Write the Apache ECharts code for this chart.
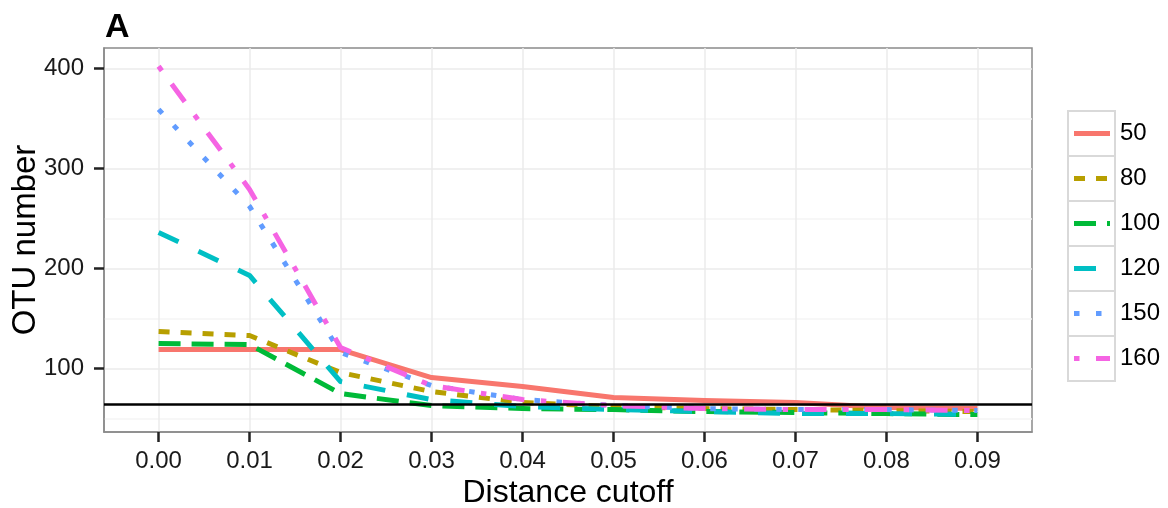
<!DOCTYPE html>
<html>
<head>
<meta charset="utf-8">
<script src="https://cdn.jsdelivr.net/npm/echarts@6/dist/echarts.min.js"></script>
<style>html,body{margin:0;padding:0;background:#fff}#c{width:1168px;height:508px}</style>
</head>
<body>
<div id="c"></div>
<script>
// ---- data ----
const cutoffs = [0.00, 0.01, 0.02, 0.03, 0.04, 0.05, 0.06, 0.07, 0.08, 0.09];
const xTicks = [0.00, 0.01, 0.02, 0.03, 0.04, 0.05, 0.06, 0.07, 0.08, 0.09];
const yTicks = [100, 200, 300, 400];
const yMinorTicks = [50, 150, 250, 350];
const seriesNames = ['50', '80', '100', '120', '150', '160'];
const s50  = [119, 119, 119, 91, 82, 71, 68, 66, 61, 60];
const s80  = [137, 133, 96, 77, 66, 62, 60, 59, 58, 57];
const s100 = [125, 124, 75, 63, 60, 59, 57, 56, 55, 54];
const s120 = [236, 193, 87, 69, 62, 59, 57, 55, 55, 54];
const s150 = [359, 262, 116, 83, 69, 63, 60, 59, 59, 58];
const s160 = [402, 279, 121, 83, 69, 63, 60, 59, 59, 58];
const refLine = 64;
const seriesValues = [s50, s80, s100, s120, s150, s160];
const xMin = -0.006, xMax = 0.096, yMin = 36.6, yMax = 420.3;

// ---- style ----
const colors = ['#F8766D', '#B79F00', '#00BA38', '#00BFC4', '#619CFF', '#F564E3'];
const u = 5.5;
const dashTypes = ['solid', [2*u, 2*u], [4*u, 2*u], [4*u, 4*u], [1*u, 3*u], [1*u, 3*u, 4*u, 3*u]];
const FONT = 'Liberation Sans, Arial, Helvetica, sans-serif';
const LW = 5;

const series = seriesNames.map((name, i) => {
  const s = {
    name: name,
    type: 'line',
    xAxisIndex: 0,
    yAxisIndex: 0,
    symbol: 'none',
    showSymbol: false,
    silent: true,
    z: 3,
    lineStyle: { color: colors[i], width: LW, type: dashTypes[i], cap: 'butt', join: 'round' },
    itemStyle: { color: colors[i] },
    data: cutoffs.map((c, k) => [c, seriesValues[i][k]])
  };
  if (i === 0) {
    s.markLine = {
      silent: true,
      symbol: ['none', 'none'],
      label: { show: false },
      lineStyle: { color: '#000', width: 2.5, type: 'solid' },
      data: [{ yAxis: refLine }]
    };
  }
  return s;
});

// ---- legend (ggplot-style keys) ----
const legendLeft = 1068, legendTop = 111, boxW = 47, boxH = 45;
const legendEls = [];
seriesNames.forEach((n, i) => {
  const top = legendTop + i * boxH;
  const cy = top + boxH / 2;
  legendEls.push({
    type: 'rect', x: legendLeft, y: top,
    shape: { x: 0, y: 0, width: boxW, height: boxH },
    style: { fill: '#fff', stroke: '#d9d9d9', lineWidth: 2 }, z: 1
  });
  const lineStyle = { stroke: colors[i], lineWidth: LW, lineCap: 'butt' };
  if (dashTypes[i] !== 'solid') lineStyle.lineDash = dashTypes[i];
  legendEls.push({
    type: 'line', x: legendLeft + 6, y: cy,
    shape: { x1: 0, y1: 0, x2: 36, y2: 0 },
    style: lineStyle, z: 2
  });
  legendEls.push({
    type: 'text', x: legendLeft + 52, y: cy,
    style: { text: n, fill: '#000', font: '24px ' + FONT, textVerticalAlign: 'middle', verticalAlign: 'middle' },
    z: 2
  });
});

const chart = echarts.init(document.getElementById('c'), null, { renderer: 'canvas' });

const tickStyle = { show: true, inside: false, length: 10, lineStyle: { color: '#222', width: 2.5 } };

chart.setOption({
  animation: false,
  backgroundColor: '#fff',
  title: {
    text: 'A', left: 100, top: 6,
    textStyle: { fontFamily: FONT, fontSize: 34, fontWeight: 'bold', color: '#000' }
  },
  grid: {
    left: 104, right: 136, top: 48, bottom: 76,
    show: true, borderColor: '#8a8a8a', borderWidth: 1.5, backgroundColor: 'transparent',
    containLabel: false, outerBoundsMode: 'none'
  },
  graphic: { elements: legendEls },
  xAxis: [{
    type: 'value', min: xMin, max: xMax, position: 'bottom',
    name: 'Distance cutoff', nameLocation: 'middle', nameGap: 45, nameMoveOverlap: false,
    nameTextStyle: { fontFamily: FONT, fontSize: 32, color: '#000' },
    axisLine: { show: true, onZero: false, lineStyle: { color: '#8a8a8a', width: 1.5 } },
    axisTick: Object.assign({}, tickStyle, { customValues: xTicks }),
    axisLabel: { show: true, margin: 17, fontFamily: FONT, fontSize: 24, color: '#1a1a1a',
      customValues: xTicks, formatter: function (v) { return Number(v).toFixed(2); } },
    splitLine: { show: true, lineStyle: { color: '#ebebeb', width: 1.5 } }
  }],
  yAxis: [{
    type: 'value', min: yMin, max: yMax,
    name: 'OTU number', nameLocation: 'middle', nameGap: 62, nameRotate: 90, nameMoveOverlap: false,
    nameTextStyle: { fontFamily: FONT, fontSize: 33, color: '#000' },
    axisLine: { show: true, onZero: false, lineStyle: { color: '#8a8a8a', width: 1.5 } },
    axisTick: Object.assign({}, tickStyle, { customValues: yTicks }),
    axisLabel: { show: true, margin: 20, fontFamily: FONT, fontSize: 24, color: '#1a1a1a', customValues: yTicks },
    splitLine: { show: true, lineStyle: { color: '#ebebeb', width: 1.5 } }
  }, {
    type: 'value', min: yMin, max: yMax, position: 'left',
    axisLine: { show: false, onZero: false },
    axisTick: { show: false, customValues: yMinorTicks },
    axisLabel: { show: false, customValues: yMinorTicks },
    splitLine: { show: true, lineStyle: { color: '#f5f5f5', width: 1.5 } }
  }],
  series: series
});
</script>
</body>
</html>
